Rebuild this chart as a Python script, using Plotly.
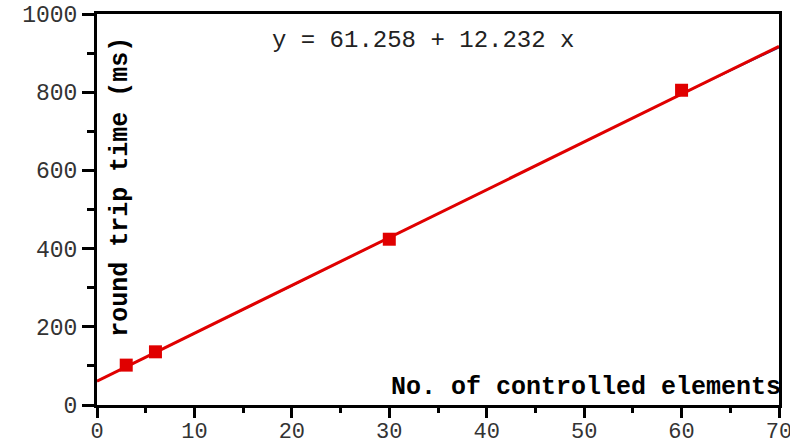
import plotly.graph_objects as go

# measured data points
x_pts = [3, 6, 30, 60]
y_pts = [102, 136, 424, 805]

x_curve = [0, 10, 20, 30, 40, 50, 60, 70]
y_curve = [61, 182, 305, 428, 550, 672, 795, 914]

# regression fit
intercept = 61.258
slope = 12.232
x_fit = [0, 70]
y_fit = [intercept + slope * v for v in x_fit]

x_ticks = [0, 10, 20, 30, 40, 50, 60, 70]
y_ticks = [0, 200, 400, 600, 800, 1000]

mono = "Liberation Mono, Courier New, monospace"

fig = go.Figure()
fig.add_trace(go.Scatter(x=x_curve, y=y_curve, mode="lines",
                         line=dict(color="#2a1a6e", width=1.5), showlegend=False))
fig.add_trace(go.Scatter(x=x_fit, y=y_fit, mode="lines",
                         line=dict(color="#e00000", width=3), showlegend=False))
fig.add_trace(go.Scatter(x=x_pts, y=y_pts, mode="markers",
                         marker=dict(symbol="square", size=13, color="#e00000"),
                         showlegend=False))

fig.update_layout(
    width=790, height=445,
    margin=dict(l=97, r=11, t=14, b=40),
    paper_bgcolor="white", plot_bgcolor="white",
    font=dict(family=mono, size=23, color="#333"),
    xaxis=dict(range=[0, 70], tickvals=x_ticks, showgrid=False, zeroline=False,
               automargin=False, ticklabeloverflow="allow", ticklabelstandoff=-6,
               showline=True, linecolor="black", linewidth=3, mirror=True,
               ticks="outside", ticklen=10, tickwidth=3, tickcolor="black",
               minor=dict(dtick=5, ticks="outside", ticklen=5, tickwidth=3, tickcolor="black"),
               tickfont=dict(family=mono, size=22, color="#333")),
    yaxis=dict(range=[0, 1000], tickvals=y_ticks, showgrid=False, zeroline=False,
               automargin=False, ticklabeloverflow="allow",
               showline=True, linecolor="black", linewidth=3, mirror=True,
               ticks="outside", ticklen=12, tickwidth=3, tickcolor="black",
               minor=dict(dtick=100, ticks="outside", ticklen=7, tickwidth=3, tickcolor="black"),
               tickfont=dict(family=mono, size=23, color="#333")),
    annotations=[
        dict(text="y = 61.258 + 12.232 x", x=0.478, y=0.931, xref="paper", yref="paper",
             showarrow=False, xanchor="center", yanchor="middle",
             font=dict(family=mono, size=24, color="#222")),
        dict(text="<b>No. of controlled elements</b>", x=1.006, y=0.045, xref="paper", yref="paper",
             showarrow=False, xanchor="right", yanchor="middle",
             font=dict(family=mono, size=25, color="black")),
        dict(text="<b>round trip time (ms)</b>", x=0.035, y=0.558, xref="paper", yref="paper",
             showarrow=False, xanchor="center", yanchor="middle", textangle=-90,
             font=dict(family=mono, size=25, color="black")),
    ],
)

fig.write_html("out.html", config={"displayModeBar": False},
               post_script="document.body.style.margin='0';")
